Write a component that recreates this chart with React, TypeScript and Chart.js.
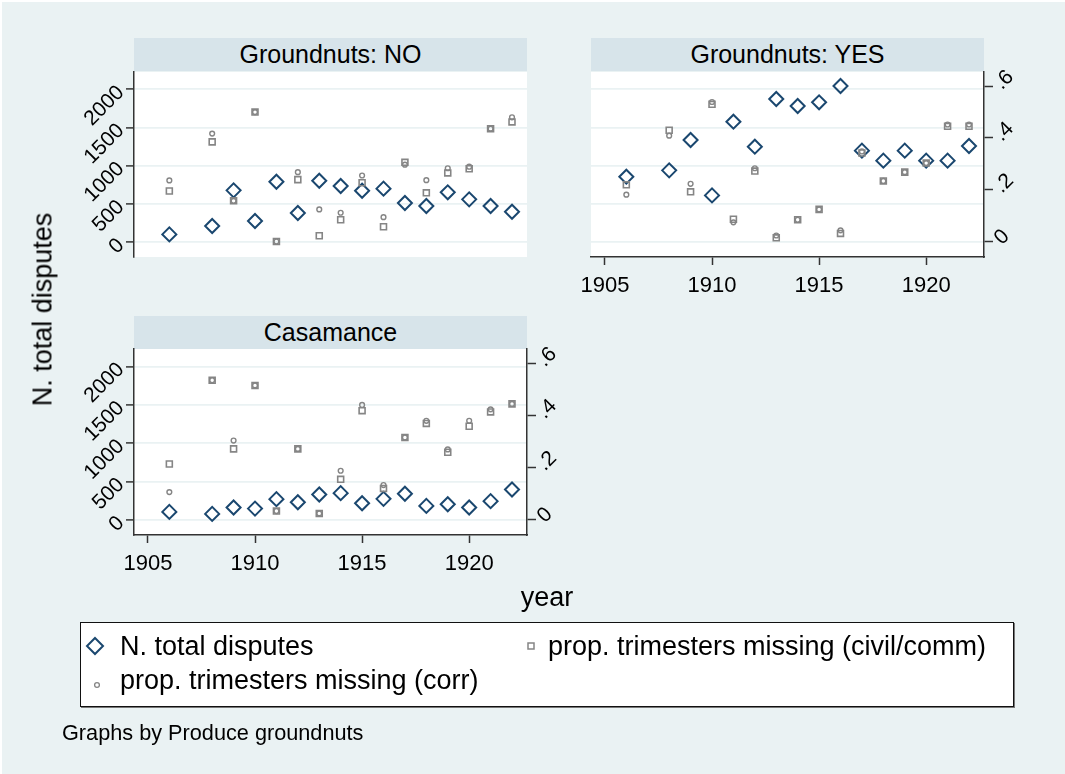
import React, { useEffect, useRef } from "react";
import { Chart, registerables } from "chart.js";

Chart.register(...registerables);

// ---------- data ----------
const years = [1906, 1908, 1909, 1910, 1911, 1912, 1913, 1914, 1915, 1916, 1917, 1918, 1919, 1920, 1921, 1922];

const noDisputes = [100, 210, 677, 275, 790, 380, 803, 734, 672, 699, 511, 472, 651, 559, 472, 397];
const noCivil = [0.195, 0.385, 0.157, 0.5, 0.0, 0.239, 0.022, 0.084, 0.227, 0.057, 0.306, 0.188, 0.265, 0.281, 0.436, 0.462];
const noCorr = [0.236, 0.417, 0.157, 0.5, 0.0, 0.268, 0.124, 0.111, 0.255, 0.094, 0.297, 0.237, 0.283, 0.289, 0.436, 0.48];

const yesDisputes = [856, 939, 1336, 611, 1576, 1249, 1873, 1782, 1830, 2044, 1197, 1066, 1197, 1066, 1066, 1258];
const yesCivil = [0.219, 0.43, 0.192, 0.53, 0.086, 0.272, 0.014, 0.084, 0.124, 0.031, 0.342, 0.234, 0.268, 0.303, 0.445, 0.445];
const yesCorr = [0.181, 0.409, 0.223, 0.539, 0.074, 0.283, 0.023, 0.084, 0.124, 0.043, 0.348, 0.234, 0.268, 0.303, 0.452, 0.452];

const casDisputes = [105, 79, 162, 148, 271, 231, 332, 349, 218, 275, 341, 183, 205, 162, 245, 397];
const casCivil = [0.213, 0.535, 0.271, 0.515, 0.032, 0.271, 0.023, 0.154, 0.418, 0.119, 0.315, 0.369, 0.258, 0.358, 0.413, 0.444];
const casCorr = [0.105, 0.535, 0.303, 0.515, 0.032, 0.271, 0.023, 0.187, 0.44, 0.132, 0.315, 0.379, 0.269, 0.379, 0.423, 0.444];

const xTicks = [1905, 1910, 1915, 1920];
const disputeTicks = [0, 500, 1000, 1500, 2000];
const propTicks = [0, 0.2, 0.4, 0.6];
const propTickLabels = ["0", ".2", ".4", ".6"];

const panelTitles = ["Groundnuts: NO", "Groundnuts: YES", "Casamance"];
const legendLabels = ["N. total disputes", "prop. trimesters missing (civil/comm)", "prop. trimesters missing (corr)"];
const yTitle = "N. total disputes";
const xTitle = "year";
const note = "Graphs by Produce groundnuts";

// ---------- style ----------
const NAVY = "#1a476f";
const GRAY = "#858585";
const AXIS = "#333333";
const GRID = "#eaf2f3";
const BG = "#eaf2f3";
const STRIP = "#d7e4ea";
const FONT = "'Liberation Sans', Arial, Helvetica, sans-serif";

const X_MIN = 1904.35, X_MAX = 1922.7;
const Y_MIN = -196, Y_MAX = 2227;
const P_MIN = -0.06, P_MAX = 0.655;

type Spec = {
  left: number; top: number; right: number; bottom: number;
  showLeft: boolean; showRight: boolean; showX: boolean;
  disputes: number[]; civil: number[]; corr: number[];
};

const plotBg = {
  id: "plotBg",
  beforeDraw(chart: any) {
    const { ctx, chartArea: a } = chart;
    ctx.save();
    ctx.fillStyle = "#ffffff";
    ctx.fillRect(a.left, a.top, a.right - a.left, a.bottom - a.top);
    ctx.restore();
  },
};

function Panel({ spec }: { spec: Spec }) {
  const ref = useRef<HTMLCanvasElement>(null);
  const PAD = 40;
  const ml = spec.showLeft ? 100 : 0;
  const mr = spec.showRight ? 60 : 0;
  const mb = spec.showX ? 50 : 0;
  const cw = spec.right - spec.left + ml + mr + 2 * PAD;
  const ch = spec.bottom - spec.top + mb + 2 * PAD;

  useEffect(() => {
    const pts = (vals: number[]) => years.map((x, i) => ({ x, y: vals[i] }));
    const chart = new Chart(ref.current as HTMLCanvasElement, {
      type: "scatter",
      data: {
        datasets: [
          {
            label: legendLabels[0],
            data: pts(spec.disputes),
            yAxisID: "y",
            order: 3,
            pointStyle: "rectRot",
            pointRadius: 7,
            pointBorderWidth: 2,
            pointBorderColor: NAVY,
            pointBackgroundColor: "rgba(0,0,0,0)",
          },
          {
            label: legendLabels[1],
            data: pts(spec.civil),
            yAxisID: "y2",
            order: 2,
            pointStyle: "rect",
            pointRadius: 4.2,
            pointBorderWidth: 1.6,
            pointBorderColor: GRAY,
            pointBackgroundColor: "rgba(0,0,0,0)",
          },
          {
            label: legendLabels[2],
            data: pts(spec.corr),
            yAxisID: "y2",
            order: 1,
            pointStyle: "circle",
            pointRadius: 2.4,
            pointBorderWidth: 1.4,
            pointBorderColor: GRAY,
            pointBackgroundColor: "rgba(0,0,0,0)",
          },
        ] as any,
      },
      options: {
        animation: false,
        responsive: false,
        maintainAspectRatio: false,
        layout: { padding: PAD },
        plugins: { legend: { display: false }, tooltip: { enabled: false } },
        events: [],
        scales: {
          x: {
            type: "linear",
            position: "bottom",
            display: spec.showX,
            min: X_MIN,
            max: X_MAX,
            afterBuildTicks: (s: any) => { s.ticks = xTicks.map((v) => ({ value: v })); },
            afterFit: (s: any) => { s.height = mb; },
            grid: { display: true, drawOnChartArea: false, drawTicks: true, tickLength: 8, tickWidth: 1.5, tickColor: AXIS },
            border: { display: true, color: AXIS, width: 1.5 },
            ticks: {
              autoSkip: false, minRotation: 0, maxRotation: 0, padding: 8,
              font: { family: FONT, size: 22 }, color: "#000",
              callback: (v: any) => String(v),
            },
          },
          y: {
            type: "linear",
            position: "left",
            display: true,
            min: Y_MIN,
            max: Y_MAX,
            afterBuildTicks: (s: any) => { s.ticks = disputeTicks.map((v) => ({ value: v })); },
            afterFit: (s: any) => { s.width = ml; },
            grid: {
              display: true, drawOnChartArea: true, color: GRID, lineWidth: 1.8,
              drawTicks: spec.showLeft, tickLength: 8, tickWidth: 1.5, tickColor: AXIS,
            },
            border: { display: spec.showLeft, color: AXIS, width: 1.5 },
            ticks: {
              display: spec.showLeft, autoSkip: false, minRotation: 45, maxRotation: 45, padding: 5,
              font: { family: FONT, size: 21 }, color: "#000",
              callback: (v: any) => String(v),
            },
          },
          y2: {
            type: "linear",
            position: "right",
            display: spec.showRight,
            min: P_MIN,
            max: P_MAX,
            afterBuildTicks: (s: any) => { s.ticks = propTicks.map((v) => ({ value: v })); },
            afterFit: (s: any) => { s.width = mr; },
            grid: { display: true, drawOnChartArea: false, drawTicks: true, tickLength: 9, tickWidth: 1.5, tickColor: AXIS },
            border: { display: true, color: AXIS, width: 1.5 },
            ticks: {
              autoSkip: false, minRotation: 45, maxRotation: 45, padding: 5,
              font: { family: FONT, size: 21 }, color: "#000",
              callback: (_v: any, i: number) => propTickLabels[i],
            },
          },
        },
      } as any,
      plugins: [plotBg],
    });
    return () => chart.destroy();
  }, []);

  return (
    <canvas
      ref={ref}
      width={cw}
      height={ch}
      style={{ position: "absolute", left: spec.left - ml - PAD, top: spec.top - PAD, width: cw, height: ch }}
    />
  );
}

function Strip({ left, top, width, text }: { left: number; top: number; width: number; text: string }) {
  return (
    <div
      style={{
        position: "absolute", left, top, width, height: 33, background: STRIP,
        font: `25px ${FONT}`, lineHeight: "33px", textAlign: "center", color: "#000", whiteSpace: "nowrap",
      }}
    >
      {text}
    </div>
  );
}

const LFS = 27;
const BASE = 0.8465 * LFS;

export default function App() {
  const specs: Spec[] = [
    { left: 134, top: 72, right: 527, bottom: 257, showLeft: true, showRight: false, showX: false, disputes: noDisputes, civil: noCivil, corr: noCorr },
    { left: 591, top: 72, right: 984, bottom: 257, showLeft: false, showRight: true, showX: true, disputes: yesDisputes, civil: yesCivil, corr: yesCorr },
    { left: 134, top: 349, right: 527, bottom: 535, showLeft: true, showRight: true, showX: true, disputes: casDisputes, civil: casCivil, corr: casCorr },
  ];
  const textStyle = (extra: any) => ({
    position: "absolute" as const, font: `${LFS}px ${FONT}`, lineHeight: `${LFS}px`, color: "#000", whiteSpace: "nowrap" as const, ...extra,
  });
  return (
    <div
      style={{
        position: "absolute", left: 0, top: 0, width: 1065, height: 774, background: BG, overflow: "hidden",
        borderTop: "2px solid #fff", borderLeft: "2px solid #fff", boxSizing: "border-box",
      }}
    >
      <div style={{ position: "absolute", left: -2, top: -2, width: 1065, height: 774 }}>
        <Strip left={134} top={38} width={393} text={panelTitles[0]} />
        <Strip left={591} top={38} width={393} text={panelTitles[1]} />
        <Strip left={134} top={316} width={393} text={panelTitles[2]} />
        {specs.map((s, i) => <Panel key={i} spec={s} />)}

        <div style={textStyle({ left: 42.5 - 150, top: 309 - LFS / 2, width: 300, height: LFS, textAlign: "center", transform: "rotate(-90deg)" })}>
          {yTitle}
        </div>
        <div style={textStyle({ left: 547 - 100, top: 606.7 - BASE, width: 200, textAlign: "center" })}>{xTitle}</div>

        <div
          style={{
            position: "absolute", left: 80, top: 622, width: 934, height: 85, background: "#fff",
            border: "1px solid #111", boxShadow: "1px 1px 0 #777", boxSizing: "border-box",
          }}
        />
        <svg style={{ position: "absolute", left: 0, top: 0 }} width={1065} height={774}>
          <polygon points="95,638 103,646 95,654 87,646" fill="none" stroke={NAVY} strokeWidth={2} />
          <rect x={528} y={643} width={6} height={6} fill="none" stroke={GRAY} strokeWidth={1.5} />
          <circle cx={97} cy={685} r={2.4} fill="none" stroke={GRAY} strokeWidth={1.3} />
        </svg>
        <div style={textStyle({ left: 120, top: 655.7 - BASE })}>{legendLabels[0]}</div>
        <div style={textStyle({ left: 548, top: 655.7 - BASE })}>{legendLabels[1]}</div>
        <div style={textStyle({ left: 120, top: 690 - BASE })}>{legendLabels[2]}</div>

        <div
          style={{
            position: "absolute", left: 62, top: 740 - 0.8465 * 21.7, font: `21.7px ${FONT}`, lineHeight: "21.7px",
            color: "#000", whiteSpace: "nowrap",
          }}
        >
          {note}
        </div>
      </div>
    </div>
  );
}
